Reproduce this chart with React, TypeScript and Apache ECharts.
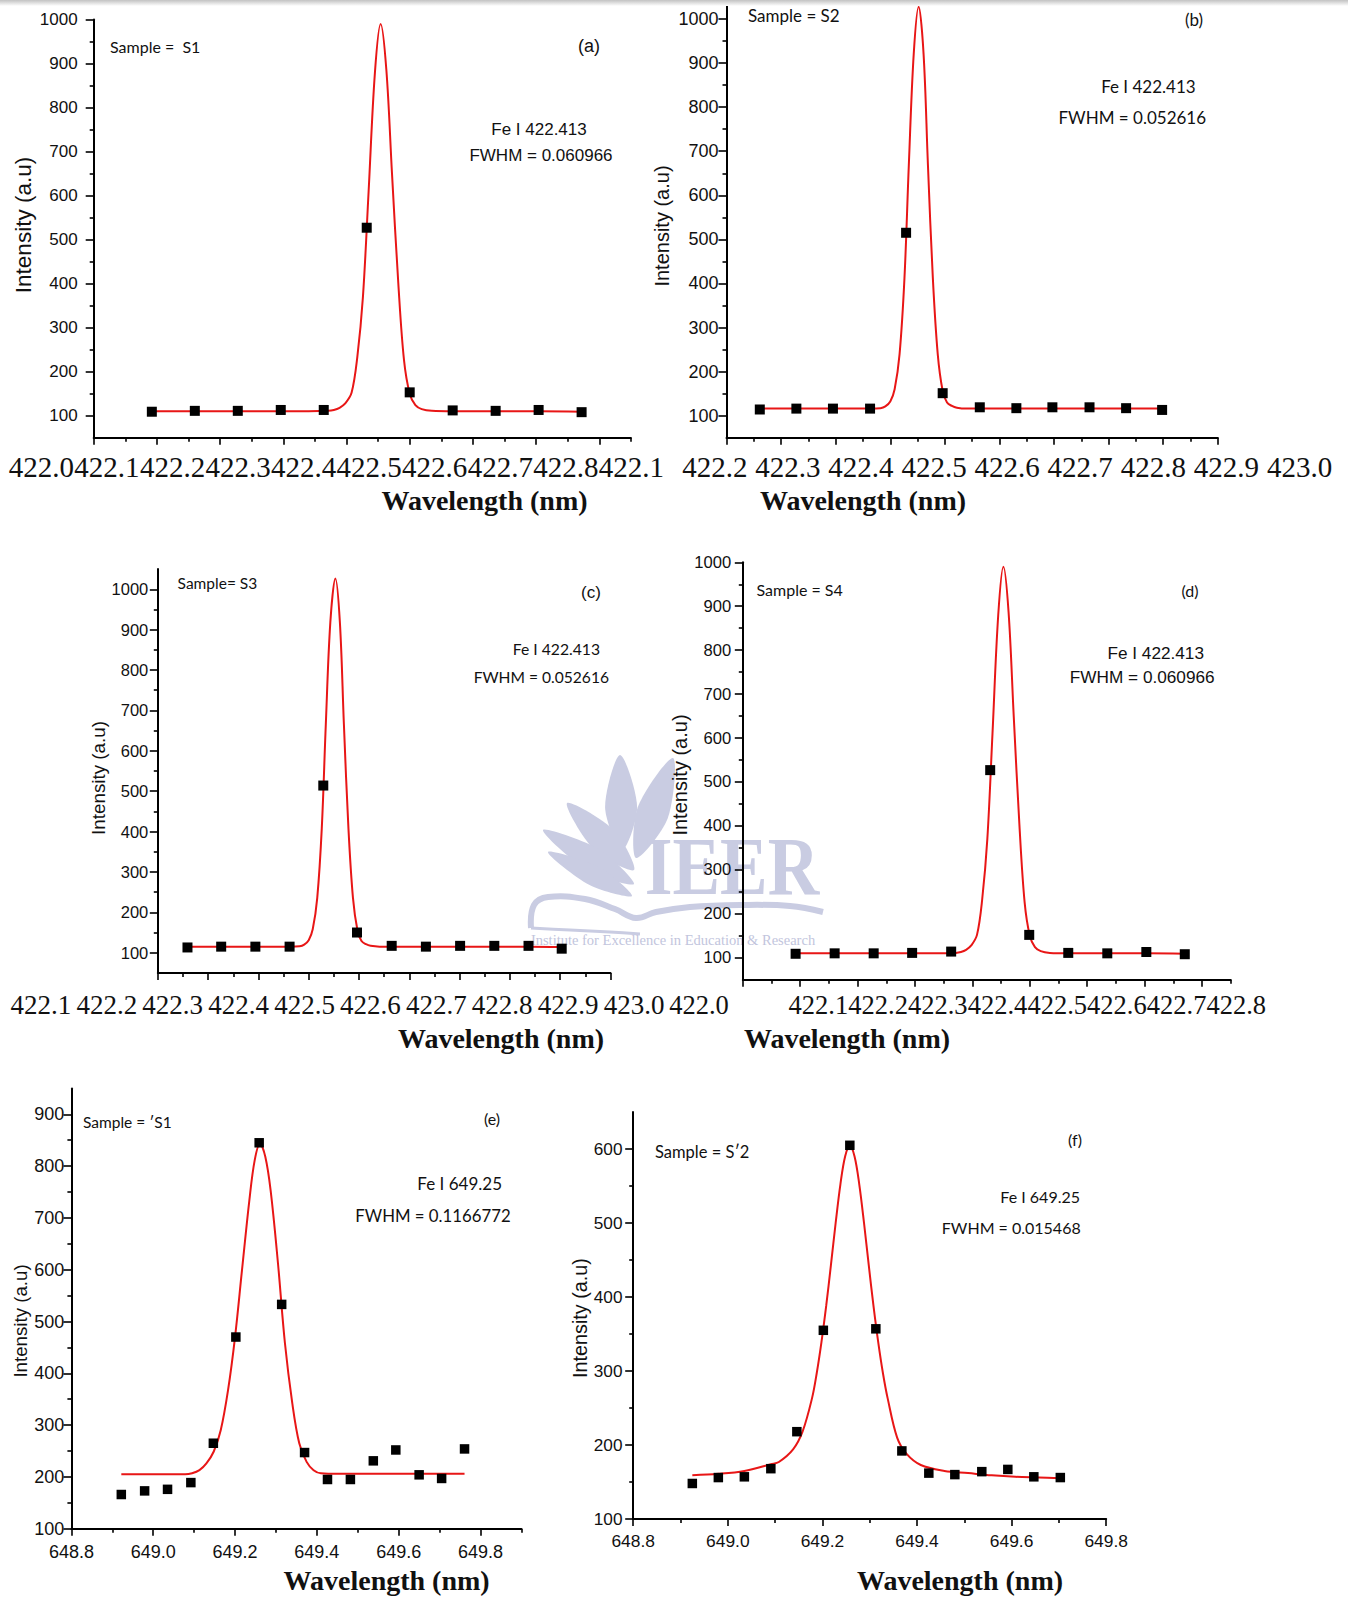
import React, { useEffect, useRef } from 'react';
import * as echarts from 'echarts';

// ---------- Panel (a) ----------
const A_X = [422.092, 422.160, 422.228, 422.296, 422.364, 422.432, 422.500, 422.568, 422.636, 422.704, 422.772];
const A_Y = [109, 111, 111, 113, 113, 527, 153, 112, 111, 113, 108];
const A_FIT_X = [422.092, 422.160, 422.228, 422.296, 422.340, 422.371, 422.380, 422.389, 422.398, 422.408, 422.417, 422.426, 422.435, 422.445, 422.454, 422.463, 422.472, 422.482, 422.491, 422.500, 422.509, 422.519, 422.535, 422.568, 422.636, 422.704, 422.772];
const A_FIT_Y = [110, 110, 110, 110, 110, 111, 113, 118, 128, 152, 232, 370, 610, 880, 990, 887, 650, 400, 226, 150, 124, 115, 111, 110, 110, 110, 109];
const A_XTICK_LABELS = ['422.0', '422.1', '422.2', '422.3', '422.4', '422.5', '422.6', '422.7', '422.8', '422.1'];

// ---------- Panel (b) ----------
const B_X = [422.261, 422.328, 422.395, 422.463, 422.529, 422.596, 422.664, 422.731, 422.797, 422.865, 422.932, 422.998];
const B_Y = [114, 116, 116, 116, 515, 151, 119, 117, 119, 119, 117, 113];
const B_FIT_X = [422.261, 422.328, 422.395, 422.463, 422.482, 422.491, 422.500, 422.508, 422.517, 422.526, 422.534, 422.543, 422.552, 422.561, 422.569, 422.578, 422.587, 422.596, 422.604, 422.613, 422.622, 422.640, 422.664, 422.731, 422.797, 422.865, 422.932, 422.998];
const B_FIT_Y = [116, 116, 116, 116, 117, 121, 132, 160, 239, 412, 669, 921, 1028, 921, 669, 412, 239, 156, 130, 122, 118, 116, 116, 116, 116, 116, 116, 116];
const B_XTICK_LABELS = ['422.2', '422.3', '422.4', '422.5', '422.6', '422.7', '422.8', '422.9', '423.0'];

// ---------- Panel (c) ----------
const C_X = [422.259, 422.326, 422.394, 422.462, 422.529, 422.596, 422.665, 422.733, 422.801, 422.869, 422.937, 423.003];
const C_Y = [113, 115, 115, 115, 514, 150, 117, 115, 117, 117, 117, 110];
const C_FIT_X = [422.259, 422.326, 422.394, 422.462, 422.482, 422.491, 422.500, 422.508, 422.517, 422.526, 422.534, 422.543, 422.553, 422.562, 422.570, 422.579, 422.588, 422.597, 422.605, 422.614, 422.623, 422.641, 422.665, 422.733, 422.801, 422.869, 422.937, 423.003];
const C_FIT_Y = [115, 115, 115, 115, 116, 120, 131, 158, 236, 408, 665, 918, 1027, 918, 665, 408, 236, 155, 129, 121, 117, 115, 115, 115, 115, 115, 115, 114];
const C_XTICK_LABELS = ['422.1', '422.2', '422.3', '422.4', '422.5', '422.6', '422.7', '422.8', '422.9', '423.0'];

// ---------- Panel (d) ----------
const D_X = [422.092, 422.160, 422.228, 422.295, 422.363, 422.431, 422.499, 422.567, 422.635, 422.703, 422.770];
const D_Y = [109, 110, 110, 111, 114, 527, 152, 111, 110, 113, 108];
const D_FIT_X = [422.092, 422.160, 422.228, 422.295, 422.340, 422.371, 422.380, 422.389, 422.398, 422.408, 422.417, 422.426, 422.435, 422.445, 422.454, 422.463, 422.472, 422.482, 422.491, 422.500, 422.509, 422.519, 422.535, 422.567, 422.635, 422.703, 422.770];
const D_FIT_Y = [110, 110, 110, 110, 110, 111, 113, 118, 128, 152, 232, 370, 610, 880, 990, 887, 650, 400, 226, 150, 124, 115, 111, 110, 110, 110, 109];
const D_XTICK_LABELS = ['422.0', '', '422.1', '422.2', '422.3', '422.4', '422.5', '422.6', '422.7', '422.8'];

// ---------- Panel (e) ----------
const E_X = [648.922, 648.979, 649.035, 649.092, 649.147, 649.202, 649.259, 649.314, 649.370, 649.426, 649.482, 649.538, 649.593, 649.650, 649.705, 649.761];
const E_Y = [166, 173, 176, 189, 265, 470, 845, 533, 247, 195, 195, 231, 252, 204, 197, 254];
const E_FIT_X = [648.922, 649.000, 649.078, 649.095, 649.113, 649.130, 649.148, 649.165, 649.183, 649.200, 649.217, 649.235, 649.248, 649.261, 649.274, 649.287, 649.305, 649.322, 649.340, 649.357, 649.375, 649.392, 649.410, 649.453, 649.550, 649.650, 649.761];
const E_FIT_Y = [205, 205, 205, 207, 213, 226, 249, 290, 368, 470, 599, 734, 811, 843, 818, 753, 612, 458, 342, 265, 229, 213, 207, 206, 206, 206, 206];

// ---------- Panel (f) ----------
const F_X = [648.925, 648.980, 649.035, 649.091, 649.146, 649.202, 649.258, 649.313, 649.368, 649.425, 649.480, 649.537, 649.592, 649.647, 649.703];
const F_Y = [148, 156, 157, 168, 218, 355, 605, 357, 192, 162, 160, 164, 167, 157, 156];
const F_FIT_X = [648.925, 648.980, 649.035, 649.091, 649.108, 649.138, 649.158, 649.178, 649.188, 649.198, 649.208, 649.218, 649.228, 649.238, 649.248, 649.258, 649.268, 649.278, 649.288, 649.298, 649.308, 649.318, 649.328, 649.338, 649.358, 649.378, 649.408, 649.458, 649.508, 649.558, 649.608, 649.658, 649.703];
const F_FIT_Y = [159, 161, 165, 174, 177, 194, 218, 263, 297, 339, 388, 443, 500, 552, 590, 604, 590, 552, 500, 443, 388, 339, 297, 263, 210, 188, 173, 165, 162, 159, 157, 156, 155];

// ---------- Axis ticks ----------
const Y_MAJOR_1000 = [100, 200, 300, 400, 500, 600, 700, 800, 900, 1000];
const Y_MINOR_1000 = [150, 250, 350, 450, 550, 650, 750, 850, 950];
const Y_MAJOR_E = [100, 200, 300, 400, 500, 600, 700, 800, 900];
const Y_MINOR_E = [150, 250, 350, 450, 550, 650, 750, 850];
const Y_MAJOR_F = [100, 200, 300, 400, 500, 600];
const Y_MINOR_F = [150, 250, 350, 450, 550];
const X_MAJOR_AD = [422.0, 422.1, 422.2, 422.3, 422.4, 422.5, 422.6, 422.7, 422.8];
const X_MINOR_AD = [422.05, 422.15, 422.25, 422.35, 422.45, 422.55, 422.65, 422.75, 422.85];
const X_MAJOR_BC = [422.2, 422.3, 422.4, 422.5, 422.6, 422.7, 422.8, 422.9, 423.0, 423.1];
const X_MINOR_BC = [422.25, 422.35, 422.45, 422.55, 422.65, 422.75, 422.85, 422.95, 423.05];
const X_MAJOR_EF = [648.8, 649.0, 649.2, 649.4, 649.6, 649.8];
const X_MINOR_E = [648.9, 649.1, 649.3, 649.5, 649.7, 649.9];
const X_MINOR_F = [648.9, 649.1, 649.3, 649.5, 649.7];

const SANS = '"Liberation Sans", Arial, sans-serif';
const SERIF = '"Liberation Serif", "Times New Roman", serif';
const CAL = 'Lato, "Open Sans", "DejaVu Sans", sans-serif';
const RED = '#e81616';
const INK = '#111';
const WM = '#c9cce2';

const zip = (xs: number[], ys: number[]) => xs.map((x, i) => [x, ys[i]]);

const GRIDS = [
  { left: 93.7, top: 19.5, width: 537.2, height: 418.2 },
  { left: 726.5, top: 1.4, width: 491.3, height: 436.3 },
  { left: 157.8, top: 569.1, width: 452.7, height: 403.8 },
  { left: 742.8, top: 562.3, width: 487.9, height: 417.4 },
  { left: 71.4, top: 1088.4, width: 450, height: 440.3 },
  { left: 633.2, top: 1112, width: 473, height: 407 },
  { left: 41.4, top: 451.2, width: 590, height: 1 },
  { left: 714.8, top: 451.2, width: 584.7, height: 1 },
  { left: 40.9, top: 990.2, width: 593.1, height: 1 },
  { left: 699, top: 990.7, width: 537.3, height: 1 },
];

function mainX(grid: number, min: number, max: number, majors: number[], label?: { size: number; margin: number }) {
  return {
    type: 'value', gridIndex: grid, min, max, position: 'bottom',
    minInterval: majors[1] - majors[0], maxInterval: majors[1] - majors[0],
    axisLine: { show: true, onZero: false, lineStyle: { color: '#000', width: 2 } },
    axisTick: { show: true, inside: false, length: 7, customValues: majors, lineStyle: { color: '#000', width: 1.6 } },
    axisLabel: label
      ? { show: true, customValues: majors, fontSize: label.size, fontFamily: SANS, color: INK, margin: label.margin, hideOverlap: false,
          formatter: (v: number) => v.toFixed(1) }
      : { show: false },
    splitLine: { show: false },
  };
}
function minorX(grid: number, min: number, max: number, minors: number[]) {
  return {
    type: 'value', gridIndex: grid, min, max, position: 'bottom',
    axisLine: { show: false, onZero: false },
    axisTick: { show: true, inside: false, length: 4, customValues: minors, lineStyle: { color: '#000', width: 1.6 } },
    axisLabel: { show: false }, splitLine: { show: false },
  };
}
function mainY(grid: number, min: number, max: number, majors: number[], size: number, margin: number) {
  return {
    type: 'value', gridIndex: grid, min, max, position: 'left',
    minInterval: 100, maxInterval: 100,
    axisLine: { show: true, onZero: false, lineStyle: { color: '#000', width: 2 } },
    axisTick: { show: true, inside: false, length: 8, customValues: majors, lineStyle: { color: '#000', width: 1.6 } },
    axisLabel: { show: true, customValues: majors, fontSize: size, fontFamily: SANS, color: INK, margin, hideOverlap: false,
      formatter: (v: number) => String(Math.round(v)) },
    splitLine: { show: false },
  };
}
function minorY(grid: number, min: number, max: number, minors: number[]) {
  return {
    type: 'value', gridIndex: grid, min, max, position: 'left',
    axisLine: { show: false, onZero: false },
    axisTick: { show: true, inside: false, length: 4, customValues: minors, lineStyle: { color: '#000', width: 1.6 } },
    axisLabel: { show: false }, splitLine: { show: false },
  };
}
function labelX(grid: number, labels: string[], size: number) {
  const idx = labels.map((_, i) => i);
  return {
    type: 'value', gridIndex: grid, min: 0, max: labels.length - 1, position: 'bottom',
    axisLine: { show: false, onZero: false }, axisTick: { show: false }, splitLine: { show: false },
    axisLabel: { show: true, customValues: idx, margin: 0, fontSize: size, fontFamily: SERIF, color: INK, hideOverlap: false,
      formatter: (v: number) => labels[Math.round(v)] ?? '' },
  };
}
function hiddenY(grid: number) {
  return { type: 'value', gridIndex: grid, min: 0, max: 1, show: false };
}

function txt(text: string, x: number, y: number, size: number, family: string, align = 'center', opts: any = {}) {
  return {
    type: 'text', x, y, z: 50, rotation: opts.rotation || 0, scaleX: opts.scaleX || 1,
    style: { text, fontSize: size, fontFamily: family, fontWeight: opts.weight || 'normal', fill: opts.fill || INK,
      align, verticalAlign: 'middle' },
  };
}
function leaf(tx: number, ty: number, rx: number, ry: number, w: number) {
  const dx = tx - rx, dy = ty - ry, L = Math.hypot(dx, dy);
  const px = (-dy / L) * w, py = (dx / L) * w;
  const mx = rx + dx * 0.45, my = ry + dy * 0.45;
  return { type: 'polygon', z: -5, shape: { points: [[rx, ry], [mx + px, my + py], [tx, ty], [mx - px, my - py]], smooth: 0.3 }, style: { fill: WM } };
}

const PANELS = [
  { xs: A_X, ys: A_Y, fx: A_FIT_X, fy: A_FIT_Y, size: 10 },
  { xs: B_X, ys: B_Y, fx: B_FIT_X, fy: B_FIT_Y, size: 10 },
  { xs: C_X, ys: C_Y, fx: C_FIT_X, fy: C_FIT_Y, size: 10 },
  { xs: D_X, ys: D_Y, fx: D_FIT_X, fy: D_FIT_Y, size: 10 },
  { xs: E_X, ys: E_Y, fx: E_FIT_X, fy: E_FIT_Y, size: 9.5 },
  { xs: F_X, ys: F_Y, fx: F_FIT_X, fy: F_FIT_Y, size: 9.5 },
];

function buildOption() {
  const series: any[] = [];
  PANELS.forEach((p, i) => {
    series.push({
      type: 'line', xAxisIndex: i, yAxisIndex: i, data: zip(p.fx, p.fy), smooth: 0.35,
      showSymbol: false, symbol: 'none', lineStyle: { color: RED, width: 2 }, z: 2, silent: true,
    });
    series.push({
      type: 'scatter', xAxisIndex: i, yAxisIndex: i, data: zip(p.xs, p.ys), symbol: 'rect',
      symbolSize: p.size, itemStyle: { color: '#000', opacity: 1 }, z: 3, silent: true,
    });
  });

  const graphic: any[] = [
    { type: 'rect', z: 60, shape: { x: 0, y: 0, width: 1348, height: 6 },
      style: { fill: { type: 'linear', x: 0, y: 0, x2: 0, y2: 1, colorStops: [{ offset: 0, color: '#c2c2c2' }, { offset: 1, color: '#ffffff' }] } } },
    // watermark
    leaf(620, 755, 622, 850, 16),
    leaf(673, 758, 636, 858, 16),
    leaf(567, 803, 634, 870, 14),
    leaf(543, 830, 634, 884, 12),
    leaf(548, 852, 632, 896, 10),
    { type: 'polyline', z: -5, shape: { points: [[531, 928], [534, 905], [548, 897], [585, 899], [615, 909], [636, 918], [656, 912], [690, 907], [740, 905], [790, 906], [823, 912]], smooth: 0.4 },
      style: { stroke: WM, lineWidth: 6, fill: null } },
    { type: 'polyline', z: -5, shape: { points: [[531, 928], [570, 930], [610, 932], [640, 934]], smooth: 0.3 },
      style: { stroke: WM, lineWidth: 3, fill: null } },
    { type: 'text', x: 732, y: 866, z: -5, scaleX: 0.86,
      style: { text: 'IEER', fontSize: 83, fontFamily: SERIF, fontWeight: 'bold', fill: WM, align: 'center', verticalAlign: 'middle' } },
    { type: 'text', x: 673, y: 940, z: -5,
      style: { text: 'Institute for Excellence in Education & Research', fontSize: 14.5, fontFamily: SERIF, fill: '#c2c5dd', align: 'center', verticalAlign: 'middle' } },

    // panel (a)
    txt('Sample =  S1', 110, 46, 16, CAL, 'left'),
    txt('(a)', 589, 45.7, 18, SANS),
    txt('Fe I 422.413', 539, 129.3, 17, SANS),
    txt('FWHM = 0.060966', 541, 155.3, 17, SANS),
    txt('Intensity (a.u)', 23.6, 225, 22.5, SANS, 'center', { rotation: Math.PI / 2 }),
    txt('Wavelength (nm)', 484.5, 500, 28, SERIF, 'center', { weight: 'bold' }),
    // panel (b)
    txt('Sample = S2', 748, 15.5, 17, CAL, 'left'),
    txt('(b)', 1194, 19.3, 17, CAL),
    txt('Fe I 422.413', 1148.4, 86.7, 17, CAL),
    txt('FWHM = 0.052616', 1132.3, 117.7, 17, CAL),
    txt('Intensity (a.u)', 662, 226, 20, SANS, 'center', { rotation: Math.PI / 2 }),
    txt('Wavelength (nm)', 863, 500, 28, SERIF, 'center', { weight: 'bold' }),
    // panel (c)
    txt('Sample= S3', 177.6, 583.3, 15.5, CAL, 'left'),
    txt('(c)', 591, 592.3, 17, SANS),
    txt('Fe I 422.413', 600, 649.3, 15.7, CAL, 'right'),
    txt('FWHM = 0.052616', 609, 676.7, 15.6, CAL, 'right'),
    txt('Intensity (a.u)', 98, 778, 18.8, SANS, 'center', { rotation: Math.PI / 2 }),
    txt('Wavelength (nm)', 501, 1038.3, 28, SERIF, 'center', { weight: 'bold' }),
    // panel (d)
    txt('Sample = S4', 756.5, 589.3, 16, CAL, 'left'),
    txt('(d)', 1190, 590, 16, CAL),
    txt('Fe I 422.413', 1155.7, 652.7, 17.2, SANS),
    txt('FWHM = 0.060966', 1142.2, 676.7, 17.2, SANS),
    txt('Intensity (a.u)', 679.6, 775, 20, SANS, 'center', { rotation: Math.PI / 2 }),
    txt('Wavelength (nm)', 847, 1038.3, 28, SERIF, 'center', { weight: 'bold' }),
    // panel (e)
    txt('Sample = \u2032S1', 83, 1122, 15.5, CAL, 'left'),
    txt('(e)', 492, 1118, 16, CAL),
    txt('Fe I 649.25', 502, 1183.3, 17, CAL, 'right'),
    txt('FWHM = 0.1166772', 510.7, 1215, 16.8, CAL, 'right'),
    txt('Intensity (a.u)', 20.4, 1321, 18.7, SANS, 'center', { rotation: Math.PI / 2 }),
    txt('Wavelength (nm)', 386.6, 1580, 28, SERIF, 'center', { weight: 'bold' }),
    // panel (f)
    txt('Sample = S\u20322', 655, 1152, 16.5, CAL, 'left'),
    txt('(f)', 1075, 1139, 16, CAL),
    txt('Fe I 649.25', 1080, 1196.7, 16, CAL, 'right'),
    txt('FWHM = 0.015468', 1080.7, 1227.3, 16, CAL, 'right'),
    txt('Intensity (a.u)', 580.4, 1318, 19.8, SANS, 'center', { rotation: Math.PI / 2 }),
    txt('Wavelength (nm)', 960, 1580, 28, SERIF, 'center', { weight: 'bold' }),
  ];

  return {
    animation: false,
    grid: GRIDS.map((g) => ({ ...g, containLabel: false, outerBoundsMode: 'none', show: false })),
    xAxis: [
      mainX(0, 422.0, 422.85, X_MAJOR_AD),
      mainX(1, 422.2, 423.1, X_MAJOR_BC),
      mainX(2, 422.2, 423.1, X_MAJOR_BC),
      mainX(3, 422.0, 422.85, X_MAJOR_AD),
      mainX(4, 648.8, 649.9, X_MAJOR_EF, { size: 18, margin: 14 }),
      mainX(5, 648.8, 649.8, X_MAJOR_EF, { size: 17.4, margin: 13.5 }),
      minorX(0, 422.0, 422.85, X_MINOR_AD),
      minorX(1, 422.2, 423.1, X_MINOR_BC),
      minorX(2, 422.2, 423.1, X_MINOR_BC),
      minorX(3, 422.0, 422.85, X_MINOR_AD),
      minorX(4, 648.8, 649.9, X_MINOR_E),
      minorX(5, 648.8, 649.8, X_MINOR_F),
      labelX(6, A_XTICK_LABELS, 29),
      labelX(7, B_XTICK_LABELS, 29),
      labelX(8, C_XTICK_LABELS, 27),
      labelX(9, D_XTICK_LABELS, 26.5),
    ],
    yAxis: [
      mainY(0, 50, 1000, Y_MAJOR_1000, 17, 16),
      mainY(1, 50, 1040, Y_MAJOR_1000, 18, 8),
      mainY(2, 50, 1050, Y_MAJOR_1000, 16.5, 9.5),
      mainY(3, 50, 1000, Y_MAJOR_1000, 16.6, 11.6),
      mainY(4, 100, 950, Y_MAJOR_E, 18, 7),
      mainY(5, 100, 650, Y_MAJOR_F, 17.2, 10.7),
      minorY(0, 50, 1000, Y_MINOR_1000),
      minorY(1, 50, 1040, Y_MINOR_1000),
      minorY(2, 50, 1050, Y_MINOR_1000),
      minorY(3, 50, 1000, Y_MINOR_1000),
      minorY(4, 100, 950, Y_MINOR_E),
      minorY(5, 100, 650, Y_MINOR_F),
      hiddenY(6), hiddenY(7), hiddenY(8), hiddenY(9),
    ],
    series,
    graphic,
  };
}

export default function App() {
  const ref = useRef<HTMLDivElement>(null);
  useEffect(() => {
    if (!ref.current) return;
    const chart = echarts.init(ref.current, null, { renderer: 'svg' });
    chart.setOption(buildOption() as any);
    return () => chart.dispose();
  }, []);
  return (
    <div
      ref={ref}
      style={{ position: 'absolute', left: 0, top: 0, width: 1348, height: 1598, background: '#fff' }}
    />
  );
}
